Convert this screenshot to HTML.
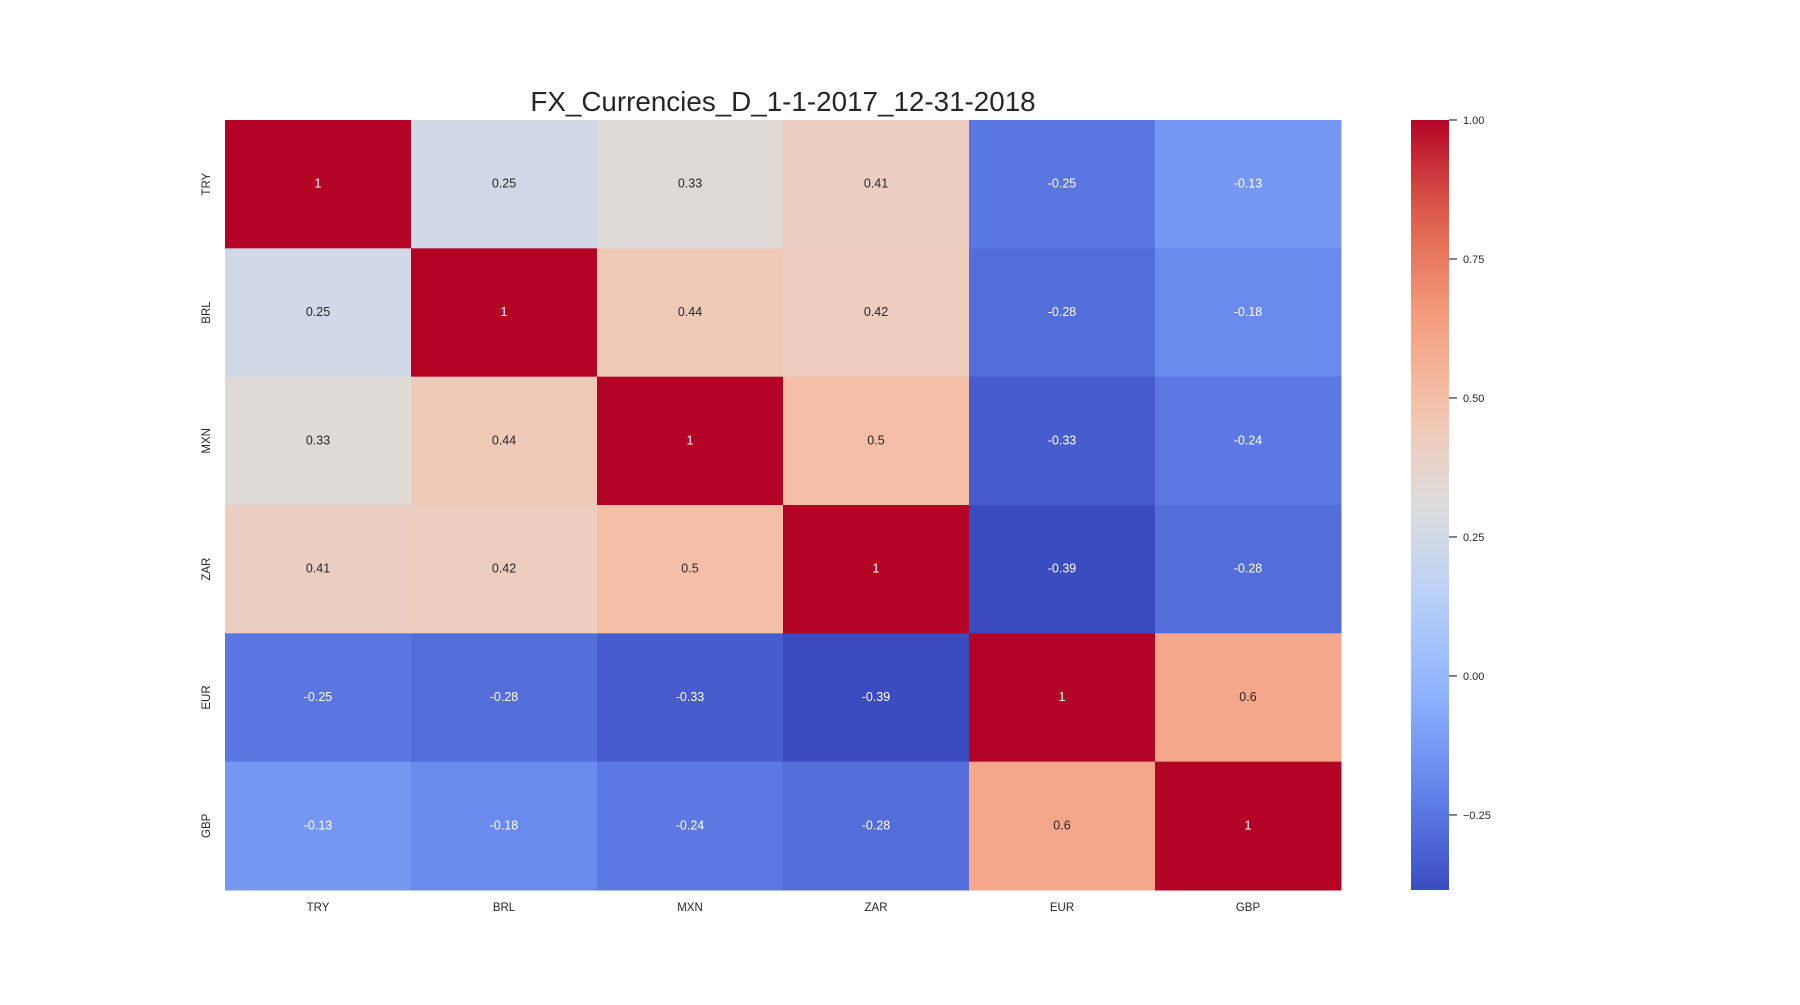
<!DOCTYPE html>
<html><head><meta charset="utf-8"><style>
body{margin:0;background:#fff;}
svg text{font-family:"Liberation Sans",Arial,sans-serif;}
</style></head><body>
<svg id="chart" width="1800" height="1000" xmlns="http://www.w3.org/2000/svg">
<rect width="1800" height="1000" fill="#fff"/>
<text x="783" y="111" font-size="27.8" text-anchor="middle" fill="#262626">FX_Currencies_D_1-1-2017_12-31-2018</text>
<g id="cells"></g>
<g id="xlabels"></g>
<g id="ylabels"></g>
<defs><linearGradient id="cbgrad" x1="0" y1="1" x2="0" y2="0"></linearGradient></defs>
<rect x="1411" y="120" width="38" height="770" fill="url(#cbgrad)"/>
<g id="cbticks"></g>
</svg>
<script>
const categories = ["TRY","BRL","MXN","ZAR","EUR","GBP"];
const rowTRY = [1,0.25,0.33,0.41,-0.25,-0.13];
const rowBRL = [0.25,1,0.44,0.42,-0.28,-0.18];
const rowMXN = [0.33,0.44,1,0.5,-0.33,-0.24];
const rowZAR = [0.41,0.42,0.5,1,-0.39,-0.28];
const rowEUR = [-0.25,-0.28,-0.33,-0.39,1,0.6];
const rowGBP = [-0.13,-0.18,-0.24,-0.28,0.6,1];
const colorbarTicks = [1.0,0.75,0.5,0.25,0.0,-0.25];
const colorbarTickLabels = ["1.00","0.75","0.50","0.25","0.00","\u22120.25"];
const vmin = -0.385, vmax = 1.0;

const matrix = [rowTRY,rowBRL,rowMXN,rowZAR,rowEUR,rowGBP];
const NS = "http://www.w3.org/2000/svg";
const L = 225, T = 120, R = 1341, B = 890;
const cw = (R - L) / categories.length, ch = (B - T) / categories.length;
const xPos = i => L + i * cw;
const yPos = i => T + i * ch;
const cbY = v => B - (v - vmin) / (vmax - vmin) * (B - T);

const stops = [[0,[59,76,192]],[0.125,[98,130,234]],[0.25,[141,176,254]],[0.375,[184,208,249]],[0.5,[221,221,221]],[0.625,[245,196,173]],[0.75,[244,154,123]],[0.875,[222,96,77]],[1,[180,4,38]]];
function cmap(t){
  t = Math.max(0, Math.min(1, t));
  for (let k = 0; k < stops.length - 1; k++) {
    const [a, ca] = stops[k], [b, cb] = stops[k+1];
    if (t <= b) { const f = (t - a) / (b - a); return ca.map((c, j) => Math.round(c + (cb[j] - c) * f)); }
  }
  return stops[stops.length-1][1];
}
function lum(c){ const l = c.map(v => { v /= 255; return v <= 0.03928 ? v/12.92 : Math.pow((v+0.055)/1.055, 2.4); }); return 0.2126*l[0]+0.7152*l[1]+0.0722*l[2]; }

const cells = document.getElementById('cells');
matrix.forEach((row, r) => row.forEach((v, c) => {
  const col = cmap((v - vmin) / (vmax - vmin));
  const rect = document.createElementNS(NS, 'rect');
  rect.setAttribute('x', xPos(c)); rect.setAttribute('y', yPos(r));
  rect.setAttribute('width', cw + 0.5); rect.setAttribute('height', ch + 0.5);
  rect.setAttribute('fill', `rgb(${col})`);
  
  
  cells.appendChild(rect);
  const t = document.createElementNS(NS, 'text');
  t.setAttribute('x', xPos(c) + cw/2); t.setAttribute('y', yPos(r) + ch/2 + 3.5);
  t.setAttribute('text-anchor', 'middle'); t.setAttribute('font-size', '12.5');
  t.setAttribute('fill', lum(col) > 0.408 ? '#262626' : '#ffffff');
  t.textContent = String(v);
  
  
  cells.appendChild(t);
}));

const xl = document.getElementById('xlabels'), yl = document.getElementById('ylabels');
categories.forEach((c, i) => {
  const t = document.createElementNS(NS, 'text');
  t.setAttribute('x', xPos(i) + cw/2); t.setAttribute('y', B + 21);
  t.setAttribute('text-anchor', 'middle'); t.setAttribute('font-size', '11.5'); t.setAttribute('fill', '#262626');
  t.textContent = c;
  
  
  xl.appendChild(t);
  const y = document.createElementNS(NS, 'text');
  const cx = 210, cy = yPos(i) + ch/2;
  y.setAttribute('x', cx); y.setAttribute('y', cy);
  y.setAttribute('transform', `rotate(-90 ${cx} ${cy})`);
  y.setAttribute('text-anchor', 'middle'); y.setAttribute('font-size', '11.5'); y.setAttribute('fill', '#262626');
  y.textContent = c;
  
  
  yl.appendChild(y);
});

const grad = document.getElementById('cbgrad');
for (let k = 0; k <= 20; k++) {
  const s = document.createElementNS(NS, 'stop');
  s.setAttribute('offset', k/20);
  s.setAttribute('stop-color', `rgb(${cmap(k/20)})`);
  grad.appendChild(s);
}
const cbt = document.getElementById('cbticks');
colorbarTicks.forEach((v, i) => {
  const y = cbY(v);
  const ln = document.createElementNS(NS, 'line');
  ln.setAttribute('x1', 1449); ln.setAttribute('x2', 1457); ln.setAttribute('y1', y); ln.setAttribute('y2', y);
  ln.setAttribute('stroke', '#333'); ln.setAttribute('stroke-width', '1.2');
  
  
  cbt.appendChild(ln);
  const t = document.createElementNS(NS, 'text');
  t.setAttribute('x', 1463); t.setAttribute('y', y + 4);
  t.setAttribute('font-size', '11'); t.setAttribute('fill', '#262626');
  t.textContent = colorbarTickLabels[i];
  
  
  cbt.appendChild(t);
});
</script>
</body></html>
